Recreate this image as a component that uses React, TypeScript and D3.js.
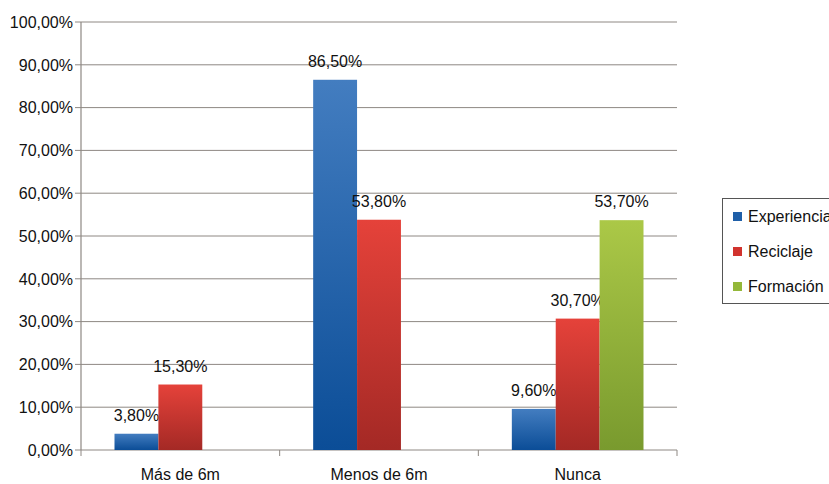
import React from "react";
import * as d3 from "d3";

const categories = ["Más de 6m", "Menos de 6m", "Nunca"];
const seriesNames = ["Experiencia", "Reciclaje", "Formación"];
const experiencia: (number | null)[] = [3.8, 86.5, 9.6];
const reciclaje: (number | null)[] = [15.3, 53.8, 30.7];
const formacion: (number | null)[] = [null, null, 53.7];
const yTicks = [0, 10, 20, 30, 40, 50, 60, 70, 80, 90, 100];

const seriesValues = [experiencia, reciclaje, formacion];
const gradients = [
  ["#437dc0", "#0b4d97"],
  ["#e5423a", "#a42925"],
  ["#abc847", "#799a2e"],
];
const legendColors = ["#1f5fa8", "#d1332e", "#94b83a"];

const W = 829, H = 484;
const left = 81, right = 677, top = 22, bottom = 450;
const font = "'Liberation Sans', Arial, Helvetica, sans-serif";
const gridColor = "#8e8883";

const fmt = (v: number) => v.toFixed(2).replace(".", ",") + "%";

export default function App() {
  const y = d3.scaleLinear().domain([0, 100]).range([bottom, top]);
  const x = d3.scaleBand().domain(categories).range([left, right]).paddingInner(0).paddingOuter(0);
  const bw = x.bandwidth();
  const groupPad = 33.5;
  const inner = d3.scaleBand().domain(seriesNames).range([groupPad, bw - groupPad]).padding(0);

  return (
    <svg width={W} height={H} style={{ position: "absolute", left: 0, top: 0, background: "#fff" }}>
      <defs>
        {gradients.map((g, i) => (
          <linearGradient key={i} id={`g${i}`} x1="0" y1="0" x2="0" y2="1">
            <stop offset="0%" stopColor={g[0]} />
            <stop offset="100%" stopColor={g[1]} />
          </linearGradient>
        ))}
      </defs>
      {yTicks.map((t) => (
        <g key={t}>
          <line x1={left - 6} x2={right} y1={y(t)} y2={y(t)} stroke={gridColor} strokeWidth={1} />
          <text x={left - 8} y={y(t)} dy="0.36em" textAnchor="end" fontFamily={font} fontSize={16} fill="#111">
            {fmt(t)}
          </text>
        </g>
      ))}
      <line x1={left} x2={left} y1={top} y2={bottom} stroke={gridColor} strokeWidth={1.2} />
      {[...categories.map((c) => x(c)!), right].map((px, i) => (
        <line key={i} x1={px} x2={px} y1={bottom} y2={bottom + 6} stroke={gridColor} strokeWidth={1} />
      ))}
      {categories.map((c) => (
        <text key={c} x={x(c)! + bw / 2} y={480} textAnchor="middle" fontFamily={font} fontSize={16} fill="#111">
          {c}
        </text>
      ))}
      {seriesValues.map((vals, si) =>
        vals.map((v, ci) => {
          if (v == null) return null;
          const bx = x(categories[ci])! + inner(seriesNames[si])!;
          const by = y(v);
          return (
            <g key={`${si}-${ci}`}>
              <rect x={bx} y={by} width={inner.bandwidth()} height={bottom - by} fill={`url(#g${si})`} />
              <text x={bx + inner.bandwidth() / 2} y={by - 13} textAnchor="middle" fontFamily={font} fontSize={16} fill="#111">
                {fmt(v)}
              </text>
            </g>
          );
        })
      )}
      <rect x={722.5} y={198.5} width={120} height={105} fill="#fff" stroke="#555" strokeWidth={1} />
      {seriesNames.map((s, i) => (
        <g key={s}>
          <rect x={733} y={212 + i * 35} width={9} height={9} fill={legendColors[i]} />
          <text x={748} y={216.5 + i * 35} dy="0.36em" fontFamily={font} fontSize={16} fill="#111">
            {s}
          </text>
        </g>
      ))}
    </svg>
  );
}
